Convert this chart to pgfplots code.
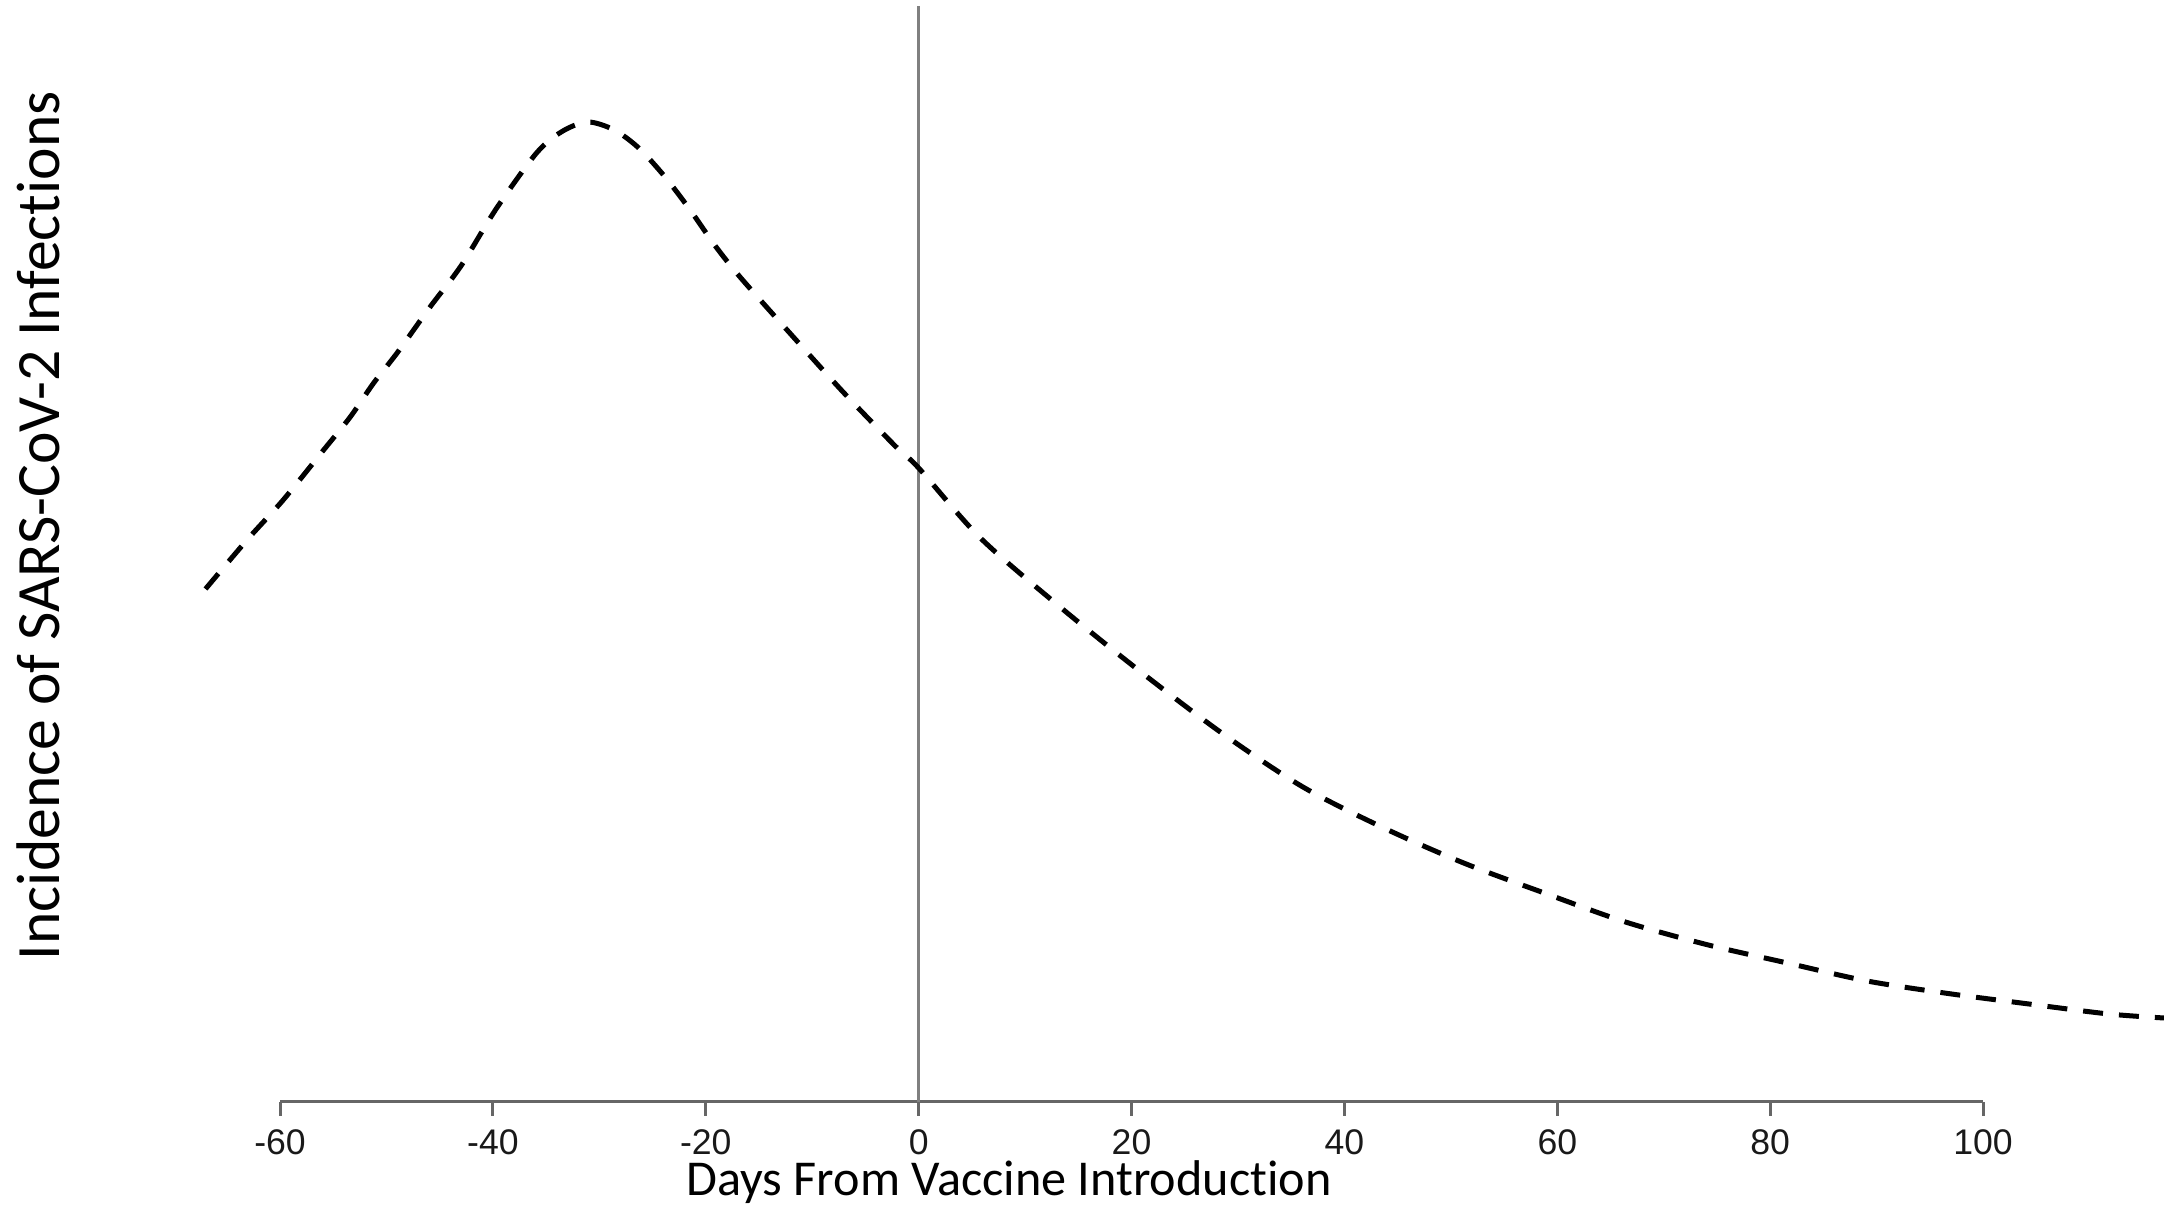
\documentclass[border=0pt]{standalone}
\usepackage{fontspec}
\setmainfont{Carlito}[Ligatures=NoCommon]
\newfontfamily\arialfont{Liberation Sans}
\usepackage{pgfplots}
\pgfplotsset{compat=1.18}
\begin{document}
\begin{tikzpicture}
\begin{axis}[
  name=ax,
  scale only axis,
  width=489.625pt, height=275.5pt,
  xmin=-67, xmax=117, ymin=0, ymax=110.2,
  clip=false,
  axis x line=bottom, axis y line=left,
  x axis line style={draw=none,-},
  y axis line style={draw=none,-},
  ytick=\empty,
  xtick={-60,-40,-20,0,20,40,60,80,100},
  xticklabels={-60,-40,-20,0,20,40,60,80,100},
  tick align=outside,
  major tick length=3.5pt,
  tick style={black!60, line width=0.75pt},
  xticklabel style={font=\arialfont\fontsize{8.9pt}{10pt}\selectfont, anchor=north, inner sep=0pt, yshift=-3.1pt, text=black!90},
  xlabel={Days From Vaccine Introduction},
  xlabel style={font=\fontsize{12.55pt}{15pt}\selectfont, at={(axis description cs:0.4103,0)}, anchor=base, yshift=-23.5pt, inner sep=0pt},
  ylabel={Incidence of SARS-CoV-2 Infections},
  ylabel style={font=\fontsize{15.4pt}{18pt}\selectfont, at={([xshift=-36.4pt]axis description cs:0,0.523)}, anchor=base, inner sep=0pt},
]
\addplot[black!60, line width=0.75pt, forget plot] coordinates {(-60,0) (100,0)};
\addplot[black!50, line width=0.75pt, forget plot] coordinates {(0,0) (0,109.6)};
\addplot[black, line width=1.25pt, dash pattern=on 5pt off 4pt, smooth] coordinates {
(-67.0,51.3) (-63.1,56.2) (-59.7,60.2) (-55.9,65.2) (-53.4,68.5) (-51.2,71.9)
(-49.0,74.9) (-45.9,79.5) (-43.0,83.6)
(-39.7,89.3) (-35.9,94.9) (-33.5,97.05) (-31.1,98.0) (-28.6,97.2) (-26.3,95.4)
(-23.9,92.6) (-21.5,89.25) (-19.1,85.6) (-16.7,82.4) (-11.9,76.65) (-7.1,71.0)
(-2.3,65.7) (0,63.4) (5.8,56.4) (13.4,49.4) (21.0,42.9) (28.6,36.8) (36.1,31.5)
(43.7,27.4) (51.2,23.9) (58.9,20.85) (66.4,18.0) (74.0,15.75) (81.6,13.9)
(89.1,12.1) (96.7,10.85) (104.3,9.8) (111.8,8.8) (117.0,8.4)
};
\end{axis}
\pgfresetboundingbox
\path ([xshift=-51.375pt,yshift=-26pt]ax.south west) rectangle (ax.north east);
\end{tikzpicture}
\end{document}
